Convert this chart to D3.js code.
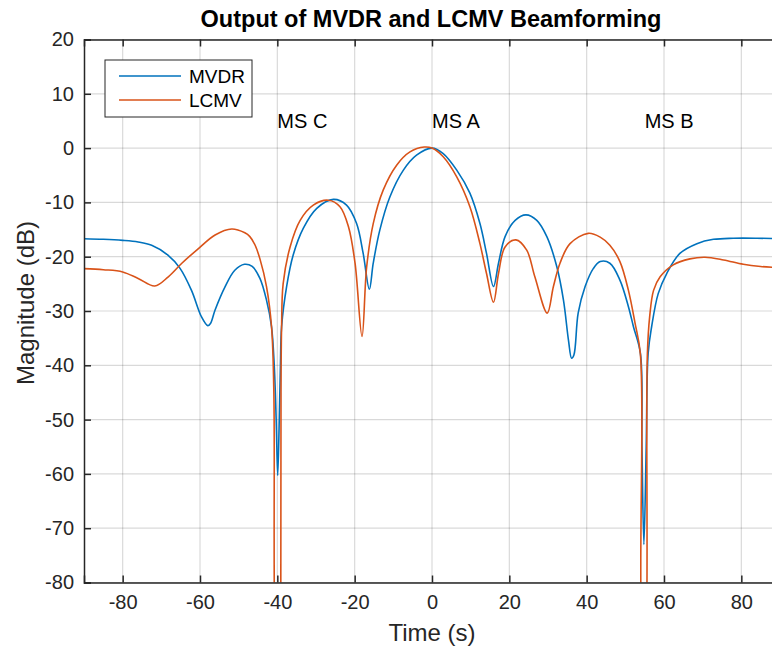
<!DOCTYPE html>
<html>
<head>
<meta charset="utf-8">
<script src="https://cdn.jsdelivr.net/npm/d3@7"></script>
<style>
  html, body { margin: 0; padding: 0; background: #fff; }
  svg { display: block; }
  text { font-family: "Liberation Sans", Arial, Helvetica, sans-serif; fill: #262626; }
</style>
</head>
<body>
<svg id="chart" width="772" height="646"></svg>
<script>
// ---- data ----
const timeMVDR = [-90,-85,-80,-76,-72.5,-68.3,-65.2,-62.2,-59.6,-58.0,-57.3,-56.1,-53.5,-51,-48.5,-46.5,-44.5,-42.8,-41.5,-40.8,-40.3,-39.9,-39.5,-39.2,-38.9,-37.6,-35.9,-33.3,-29.8,-25.5,-22.1,-19.5,-17.8,-16.2,-15.2,-13.5,-10.9,-7.4,-4.0,0,2.9,6.4,9.8,12.4,14.1,15.9,17.2,18.9,21.5,24.3,27.1,29.7,32.3,34.0,35.3,36.1,36.7,37.8,39.6,41.7,43.5,46,48.6,50.8,52.1,53.9,54.3,54.8,55.4,55.9,56.8,58.5,60.7,64.1,68.5,72.8,77.9,84,90];
const magMVDR  = [-16.7,-16.8,-17.0,-17.3,-17.9,-19.7,-22.1,-26.2,-31.1,-32.7,-32.3,-29.8,-25.5,-22.5,-21.4,-21.8,-24.0,-28.0,-32.9,-40,-50,-60.3,-50,-40,-32.9,-25.5,-19.7,-14.8,-11.1,-9.45,-10.5,-13.9,-19.4,-26.0,-21.2,-15.1,-9.0,-4.05,-1.3,0,-1.0,-4.05,-8.3,-13.9,-19.4,-25.5,-21.2,-16.3,-13.3,-12.3,-13.3,-16.3,-21.9,-28.0,-35.4,-38.7,-38.1,-30.4,-25.5,-22.2,-20.9,-21.2,-24.3,-29.2,-32.9,-37.8,-55,-73,-55,-37.8,-32.9,-26.8,-23.1,-19.4,-17.6,-16.8,-16.6,-16.6,-16.7];

const timeLCMV = [-90,-85,-80,-76,-71.7,-68.2,-64.7,-60.4,-56.1,-51.8,-48.4,-47.1,-45.8,-44.5,-42.8,-41.5,-40.9,-40.8,-40.0,-39.1,-39.05,-38.9,-38.5,-36.7,-34.1,-30.7,-26.8,-23.8,-21.6,-19.9,-18.1,-16.9,-15.2,-12.6,-9.1,-5.7,-2.0,0,2.9,6.4,9.8,12.4,14.1,15.9,17.2,18.9,21.7,24.5,26.6,29.8,31.4,33.1,35.7,40.4,43.5,46,48.6,50.8,52.5,53.9,54.0,54.8,55.6,55.7,56.3,57.3,59.0,62.4,66.7,70.6,75.4,80.5,85,90];
const magLCMV  = [-22.2,-22.4,-22.8,-24.0,-25.4,-23.7,-21.2,-18.5,-16.0,-14.9,-15.6,-16.3,-17.8,-20.4,-25.5,-32.9,-45,-80,-150,-80,-45,-33,-25,-18.2,-13.3,-10.5,-9.6,-10.8,-14.5,-21.2,-34.7,-21.9,-13.9,-7.7,-3.1,-0.7,0.2,0,-1.6,-5.3,-10.8,-17.6,-23.1,-28.4,-23.1,-18.2,-16.9,-18.8,-23.7,-30.4,-25.5,-21.2,-17.6,-15.7,-16.4,-17.9,-20.9,-26.2,-32.2,-38,-80,-150,-80,-38,-31,-26.2,-23.7,-21.5,-20.4,-20.1,-20.6,-21.4,-21.8,-22.0];

const xTicks = [-80,-60,-40,-20,0,20,40,60,80];
const yTicks = [-80,-70,-60,-50,-40,-30,-20,-10,0,10,20];
const seriesNames = ["MVDR","LCMV"];
const seriesColors = ["#0072BD","#D95319"];
const annotations = [{label:"MS C", t:-40, m:5},{label:"MS A", t:0, m:5},{label:"MS B", t:55, m:5}];
const titleText = "Output of MVDR and LCMV Beamforming";
const xLabel = "Time (s)";
const yLabel = "Magnitude (dB)";

// ---- layout ----
const svg = d3.select("#chart");
const pL = 84, pR = 780, pT = 39.5, pB = 582.5;
const x = d3.scaleLinear().domain([-90, 90]).range([pL, pR]);
const y = d3.scaleLinear().domain([-80, 20]).range([pB, pT]);
const axisColor = "#262626";

svg.append("defs").append("clipPath").attr("id","plotclip")
  .append("rect").attr("x", pL).attr("y", pT).attr("width", pR-pL).attr("height", pB-pT);

// grid
const grid = svg.append("g");
grid.selectAll("line.gx").data(xTicks).join("line").attr("class","gx")
  .attr("x1", d=>x(d)).attr("x2", d=>x(d)).attr("y1", pT).attr("y2", pB)
  .attr("stroke", "#000").attr("stroke-opacity", 0.15).attr("stroke-width", 1.2);
grid.selectAll("line.gy").data(yTicks).join("line").attr("class","gy")
  .attr("y1", d=>y(d)).attr("y2", d=>y(d)).attr("x1", pL).attr("x2", pR)
  .attr("stroke", "#000").attr("stroke-opacity", 0.15).attr("stroke-width", 1.2);

// lines
const line = d3.line().x(d=>x(d[0])).y(d=>y(d[1])).curve(d3.curveCatmullRom.alpha(0.5));
const series = [d3.zip(timeMVDR, magMVDR), d3.zip(timeLCMV, magLCMV)];
const plot = svg.append("g").attr("clip-path","url(#plotclip)");
series.forEach((s,i)=>{
  plot.append("path").datum(s).attr("d", line)
    .attr("fill","none").attr("stroke", seriesColors[i]).attr("stroke-width", 1.6)
    .attr("stroke-linejoin","round");
});

// axes (ticks inward)
const tickLen = 7;
const fmt = d => d<0 ? "-"+Math.abs(d) : String(d);
const gxb = svg.append("g").attr("transform",`translate(0,${pB})`)
  .call(d3.axisBottom(x).tickValues(xTicks).tickSize(-tickLen).tickPadding(12).tickFormat(fmt));
const gxt = svg.append("g").attr("transform",`translate(0,${pT})`)
  .call(d3.axisTop(x).tickValues(xTicks).tickSize(-tickLen).tickFormat(""));
const gyl = svg.append("g").attr("transform",`translate(${pL},0)`)
  .call(d3.axisLeft(y).tickValues(yTicks).tickSize(-tickLen).tickPadding(10).tickFormat(fmt));
[gxb,gxt,gyl].forEach(g=>{
  g.select(".domain").attr("stroke", axisColor).attr("stroke-width", 1.5);
  g.selectAll(".tick line").attr("stroke", axisColor).attr("stroke-width", 1.5);
  g.selectAll(".tick text").attr("fill", axisColor).style("font-size","20px")
    .style("font-family",'"Liberation Sans", Arial, sans-serif');
});

// annotations
svg.selectAll("text.ann").data(annotations).join("text").attr("class","ann")
  .attr("x", d=>x(d.t)).attr("y", d=>y(d.m)).attr("dominant-baseline","central")
  .style("font-size","20px").style("fill","#000").text(d=>d.label);

// title & labels
svg.append("text").attr("x", 431).attr("y", 27).attr("text-anchor","middle")
  .style("font-size","23.5px").style("font-weight","bold").style("fill","#000").text(titleText);
svg.append("text").attr("x", x(0)).attr("y", 641).attr("text-anchor","middle")
  .style("font-size","24px").text(xLabel);
svg.append("text").attr("transform",`translate(34,${(pT+pB)/2 - 8}) rotate(-90)`).attr("text-anchor","middle")
  .style("font-size","24px").text(yLabel);

// legend
const lg = svg.append("g");
lg.append("rect").attr("x",105).attr("y",60).attr("width",147).attr("height",57)
  .attr("fill","#fff").attr("stroke", axisColor).attr("stroke-width",1);
seriesNames.forEach((n,i)=>{
  const ly = 76 + i*24;
  lg.append("line").attr("x1",119).attr("x2",181).attr("y1",ly).attr("y2",ly)
    .attr("stroke", seriesColors[i]).attr("stroke-width",1.6);
  lg.append("text").attr("x",189).attr("y",ly).attr("dominant-baseline","central")
    .style("font-size","19px").style("fill","#000").text(n);
});
</script>
</body>
</html>
